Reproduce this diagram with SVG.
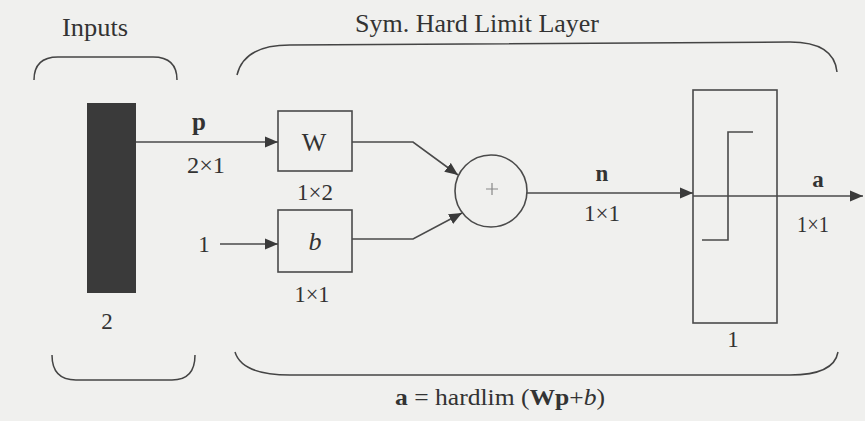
<svg xmlns="http://www.w3.org/2000/svg" width="865" height="421" viewBox="0 0 865 421">
<defs>
<marker id="arr" markerUnits="userSpaceOnUse" markerWidth="14" markerHeight="12" refX="13" refY="6" orient="auto">
<path d="M0,0.5 L13,6 L0,11.5 Z" fill="#3a3a3a"/>
</marker>
<style>
.t{font-family:"Liberation Serif","Times New Roman",serif;fill:#333;}
.box{fill:none;stroke:#4a4a4a;stroke-width:1.6;}
.ln{fill:none;stroke:#4a4a4a;stroke-width:1.6;}
.br{fill:none;stroke:#444;stroke-width:1.5;}
</style>
</defs>
<rect x="0" y="0" width="865" height="421" fill="#f0f0ee"/>

<g id="brackets">
<path class="br" d="M34,80 Q34,57 58,57 L153,57 Q177,57 177,80"/>
<path class="br" d="M52,355 Q52,380 76,380 L172,380 Q195,380 195,355"/>
<path class="br" d="M237,75 Q244,45 290,45 L790,42 Q834,42 837,72"/>
<path class="br" d="M235,352 Q242,375 290,375 L790,375 Q834,375 838,352"/>
</g>

<g id="titles">
<text class="t" x="95" y="36" font-size="25" text-anchor="middle" textLength="66" lengthAdjust="spacingAndGlyphs">Inputs</text>
<text class="t" x="477" y="32" font-size="25" text-anchor="middle" textLength="244" lengthAdjust="spacingAndGlyphs">Sym. Hard Limit Layer</text>
<text class="t" x="500" y="405" font-size="23" text-anchor="middle" textLength="210" lengthAdjust="spacingAndGlyphs"><tspan font-weight="bold">a</tspan> = hardlim (<tspan font-weight="bold">Wp</tspan>+<tspan font-style="italic">b</tspan>)</text>
</g>

<g id="input">
<rect x="87" y="103" width="49" height="190" fill="#3a3a3a"/>
<text class="t" x="107" y="329" font-size="23" text-anchor="middle">2</text>
</g>

<g id="W">
<rect class="box" x="278" y="111" width="74" height="60"/>
<text class="t" x="314" y="151" font-size="26" text-anchor="middle">W</text>
<text class="t" x="315" y="200" font-size="23" text-anchor="middle" textLength="36" lengthAdjust="spacingAndGlyphs">1×2</text>
</g>

<g id="b">
<rect class="box" x="278" y="210" width="74" height="62"/>
<text class="t" x="315" y="250" font-size="26" text-anchor="middle" font-style="italic">b</text>
<text class="t" x="312" y="302" font-size="23" text-anchor="middle" textLength="35" lengthAdjust="spacingAndGlyphs">1×1</text>
</g>

<g id="bias-input">
<text class="t" x="204" y="252" font-size="23" text-anchor="middle">1</text>
</g>

<g id="sum">
<circle cx="491" cy="191" r="36" fill="none" stroke="#4a4a4a" stroke-width="1.6"/>
<path d="M486,189 H498 M492,183 V195" stroke="#888" stroke-width="1.2" fill="none"/>
</g>

<g id="hardlim">
<rect class="box" x="693" y="90" width="84" height="233"/>
<path class="ln" d="M702,240 H728 V132 H753"/>
<text class="t" x="733" y="347" font-size="23" text-anchor="middle">1</text>
</g>

<g id="connectors">
<line class="ln" x1="136" y1="142" x2="278" y2="142" marker-end="url(#arr)"/>
<line class="ln" x1="220" y1="244" x2="278" y2="244" marker-end="url(#arr)"/>
<polyline class="ln" points="352,142 413,142 458,175" marker-end="url(#arr)"/>
<polyline class="ln" points="352,239 413,239 462,213" marker-end="url(#arr)"/>
<line class="ln" x1="527" y1="193" x2="693" y2="193" marker-end="url(#arr)"/>
<line class="ln" x1="693" y1="196" x2="863" y2="196" marker-end="url(#arr)"/>
<text class="t" x="199" y="130" font-size="25" text-anchor="middle" font-weight="bold">p</text>
<text class="t" x="206" y="173" font-size="23" text-anchor="middle" textLength="38" lengthAdjust="spacingAndGlyphs">2×1</text>
<text class="t" x="602" y="181" font-size="23" text-anchor="middle" font-weight="bold">n</text>
<text class="t" x="602" y="221" font-size="23" text-anchor="middle" textLength="36" lengthAdjust="spacingAndGlyphs">1×1</text>
<text class="t" x="818" y="187" font-size="23" text-anchor="middle" font-weight="bold">a</text>
<text class="t" x="813" y="232" font-size="23" text-anchor="middle" textLength="32" lengthAdjust="spacingAndGlyphs">1×1</text>
</g>
</svg>
